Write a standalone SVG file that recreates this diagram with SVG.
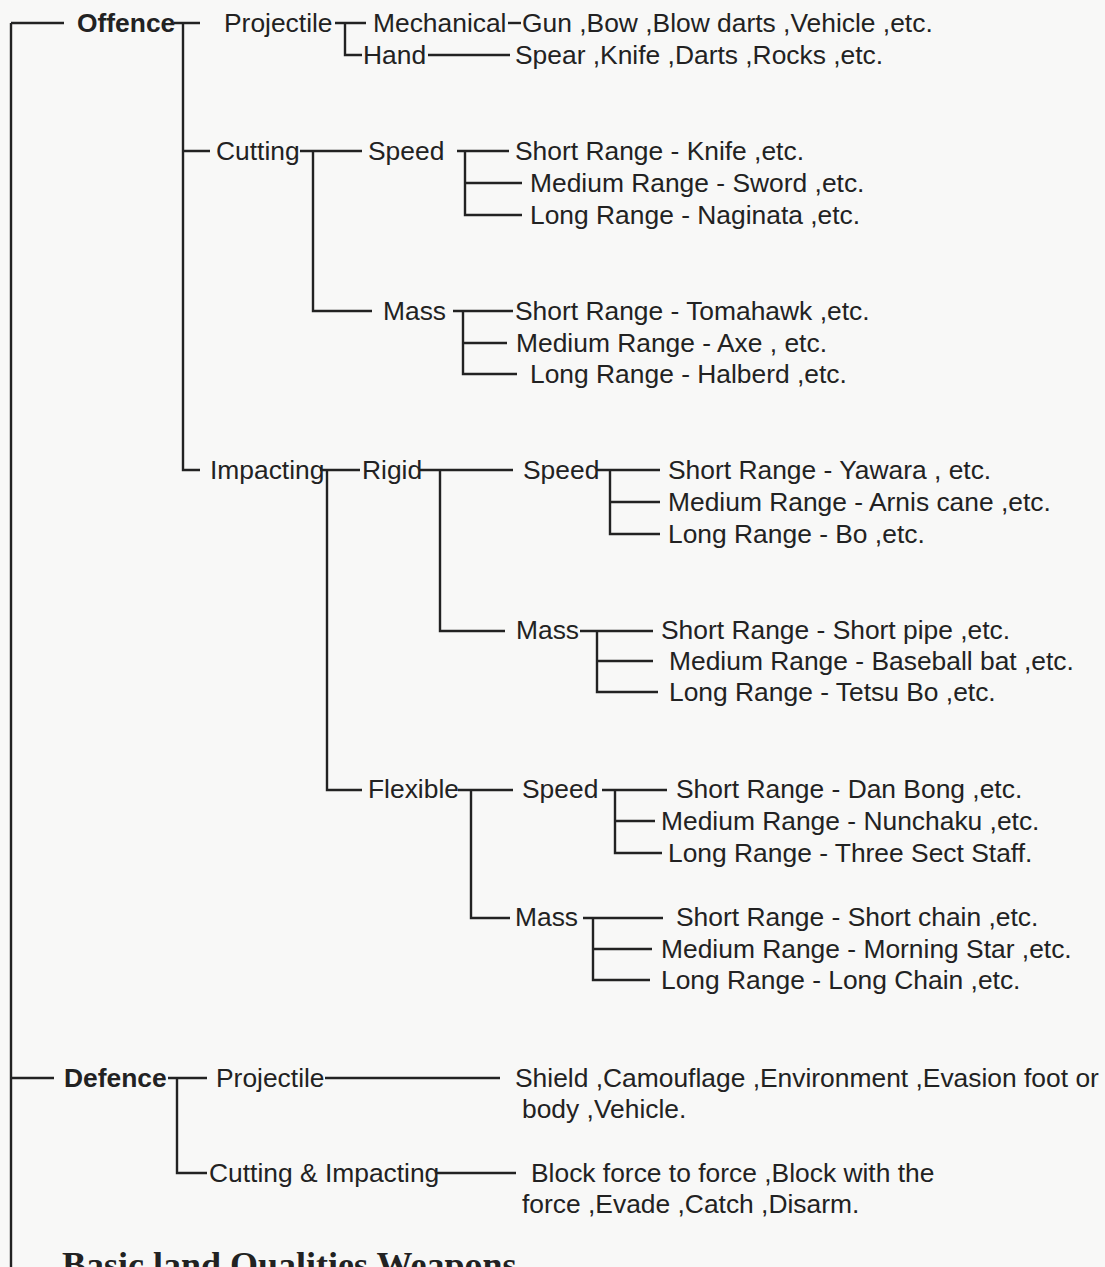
<svg xmlns="http://www.w3.org/2000/svg" width="1105" height="1267" viewBox="0 0 1105 1267">
<style>
.t{font-family:"Liberation Sans",Arial,sans-serif;font-size:26.4px;fill:#222}
.b{font-weight:bold}
.title{font-family:"Liberation Serif","Times New Roman",serif;font-size:36px;font-weight:bold;fill:#222}
.c{fill:none;stroke:#222;stroke-width:2.4}
</style>
<rect x="0" y="0" width="1105" height="1267" fill="#f8f8f7"/>
<g id="connectors" class="c">
<path d="M11,23 V1267 M11,23 H64"/>
<path d="M174,23 H200 M183,23 V470 H200 M183,151 H210"/>
<path d="M335,23 H366 M345,23 V55 H362"/>
<path d="M508,23 H521"/>
<path d="M428,55 H510"/>
<path d="M300,151 H362 M313,151 V311 H372"/>
<path d="M457,151 H509 M465,151 V215 H522 M465,183 H522"/>
<path d="M453,311 H513 M463,311 V374 H517 M463,343 H507"/>
<path d="M320,470 H360 M327,470 V790 H362"/>
<path d="M419,470 H513 M440,470 V631 H505"/>
<path d="M597,470 H660 M610,470 V534 H660 M610,502 H660"/>
<path d="M580,631 H653 M597,631 V692 H658 M597,661 H653"/>
<path d="M458,790 H513 M471,790 V918 H510"/>
<path d="M602,790 H667 M615,790 V853 H662 M615,821 H655"/>
<path d="M583,918 H663 M593,918 V980 H650 M593,949 H652"/>
<path d="M11,1078 H54 M168,1078 H207 M177,1078 V1173 H207"/>
<path d="M325,1078 H500"/>
<path d="M437,1173 H516"/>
</g>
<g id="offence"><text class="t b" x="77" y="32">Offence</text></g>
<g id="off-projectile"><text class="t" x="224" y="32">Projectile</text></g>
<g id="mechanical"><text class="t" x="373" y="32">Mechanical</text></g>
<g id="mechanical-items"><text class="t" x="522" y="32">Gun ,Bow ,Blow darts ,Vehicle ,etc.</text></g>
<g id="hand"><text class="t" x="363" y="64">Hand</text></g>
<g id="hand-items"><text class="t" x="515" y="64">Spear ,Knife ,Darts ,Rocks ,etc.</text></g>
<g id="cutting"><text class="t" x="216" y="160">Cutting</text></g>
<g id="cut-speed"><text class="t" x="368" y="160">Speed</text></g>
<g id="cut-speed-short"><text class="t" x="515" y="160">Short Range - Knife ,etc.</text></g>
<g id="cut-speed-medium"><text class="t" x="530" y="192">Medium Range - Sword ,etc.</text></g>
<g id="cut-speed-long"><text class="t" x="530" y="224">Long Range - Naginata ,etc.</text></g>
<g id="cut-mass"><text class="t" x="383" y="320">Mass</text></g>
<g id="cut-mass-short"><text class="t" x="515" y="320">Short Range - Tomahawk ,etc.</text></g>
<g id="cut-mass-medium"><text class="t" x="516" y="352">Medium Range - Axe , etc.</text></g>
<g id="cut-mass-long"><text class="t" x="530" y="383">Long Range - Halberd ,etc.</text></g>
<g id="impacting"><text class="t" x="210" y="479">Impacting</text></g>
<g id="rigid"><text class="t" x="362" y="479">Rigid</text></g>
<g id="rigid-speed"><text class="t" x="523" y="479">Speed</text></g>
<g id="rigid-speed-short"><text class="t" x="668" y="479">Short Range - Yawara , etc.</text></g>
<g id="rigid-speed-medium"><text class="t" x="668" y="511">Medium Range - Arnis cane ,etc.</text></g>
<g id="rigid-speed-long"><text class="t" x="668" y="543">Long Range - Bo ,etc.</text></g>
<g id="rigid-mass"><text class="t" x="516" y="639">Mass</text></g>
<g id="rigid-mass-short"><text class="t" x="661" y="639">Short Range - Short pipe ,etc.</text></g>
<g id="rigid-mass-medium"><text class="t" x="669" y="670">Medium Range - Baseball bat ,etc.</text></g>
<g id="rigid-mass-long"><text class="t" x="669" y="701">Long Range - Tetsu Bo ,etc.</text></g>
<g id="flexible"><text class="t" x="368" y="798">Flexible</text></g>
<g id="flex-speed"><text class="t" x="522" y="798">Speed</text></g>
<g id="flex-speed-short"><text class="t" x="676" y="798">Short Range - Dan Bong ,etc.</text></g>
<g id="flex-speed-medium"><text class="t" x="661" y="830">Medium Range - Nunchaku ,etc.</text></g>
<g id="flex-speed-long"><text class="t" x="668" y="862">Long Range - Three Sect Staff.</text></g>
<g id="flex-mass"><text class="t" x="515" y="926">Mass</text></g>
<g id="flex-mass-short"><text class="t" x="676" y="926">Short Range - Short chain ,etc.</text></g>
<g id="flex-mass-medium"><text class="t" x="661" y="958">Medium Range - Morning Star ,etc.</text></g>
<g id="flex-mass-long"><text class="t" x="661" y="989">Long Range - Long Chain ,etc.</text></g>
<g id="defence"><text class="t b" x="64" y="1087">Defence</text></g>
<g id="def-projectile"><text class="t" x="216" y="1087">Projectile</text></g>
<g id="def-projectile-items"><text class="t" x="515" y="1087">Shield ,Camouflage ,Environment ,Evasion foot or</text><text class="t" x="522" y="1118">body ,Vehicle.</text></g>
<g id="cutting-impacting"><text class="t" x="209" y="1182">Cutting &amp; Impacting</text></g>
<g id="cutting-impacting-items"><text class="t" x="531" y="1182">Block force to force ,Block with the</text><text class="t" x="522" y="1213">force ,Evade ,Catch ,Disarm.</text></g>
<g id="title"><text class="title" x="62" y="1277">Basic land Qualities Weapons</text></g>
</svg>
